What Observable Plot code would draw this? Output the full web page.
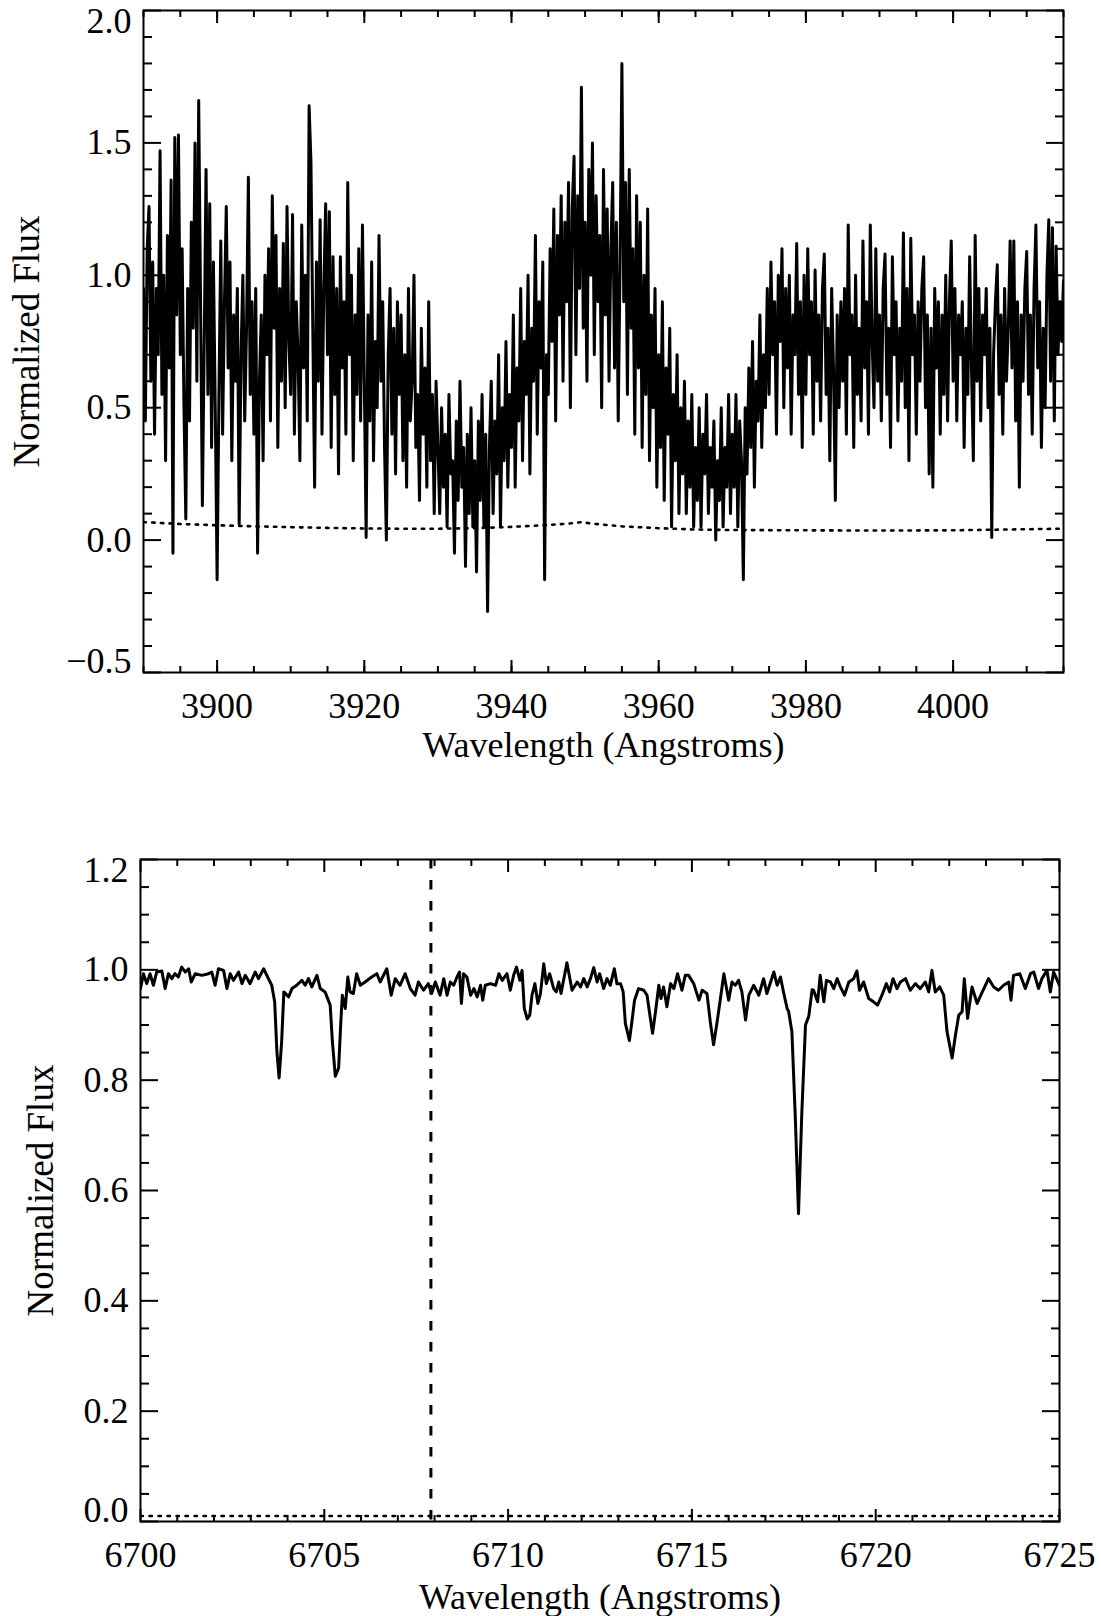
<!DOCTYPE html>
<html><head><meta charset="utf-8">
<script src="https://cdn.jsdelivr.net/npm/d3@7"></script>
<script src="https://cdn.jsdelivr.net/npm/@observablehq/plot@0.6"></script>
<style>
html,body{margin:0;padding:0;background:#fff;overflow:hidden;}
#chart svg{display:block;}
</style></head><body><div id="chart"></div>
<script>
// ---------- Top panel: Ca II H & K region (sampled every 0.25 A from 3890 A) ----------
const topStart = 3890, topStep = 0.25;
const topFlux = [
0.95,0.45,1.10,1.26,0.60,1.05,0.40,0.95,0.70,1.47,0.55,1.00,0.30,1.15,0.65,1.36,-0.05,1.52,0.85,1.53,
0.70,1.10,0.50,0.08,0.95,0.45,1.20,0.80,1.50,0.60,1.66,0.90,0.13,0.75,1.40,0.55,1.27,0.35,1.05,0.50,
-0.15,0.55,1.13,0.40,0.90,1.26,0.65,1.05,0.30,0.85,0.60,0.95,0.06,0.70,1.00,0.45,0.80,1.37,0.55,0.90,
0.40,0.95,-0.05,0.60,0.85,0.30,1.00,0.70,1.10,0.45,1.30,0.80,1.15,0.35,0.95,0.60,1.12,0.50,1.26,0.75,
0.55,1.23,0.40,0.90,0.70,0.30,1.19,0.65,1.00,0.45,1.64,1.43,0.80,0.20,1.05,0.60,1.21,0.40,0.95,1.27,
0.70,1.24,0.35,1.07,0.55,0.95,0.25,1.07,0.65,0.90,0.40,1.35,0.70,1.00,0.30,0.85,0.55,1.10,0.45,1.19,
0.60,0.01,0.85,0.45,1.05,0.30,0.75,0.50,1.15,0.60,0.90,0.35,0.00,0.70,0.95,0.40,0.80,0.25,0.90,0.55,
0.85,0.30,0.70,0.20,0.95,0.45,0.60,1.00,0.35,0.55,0.15,0.80,0.40,0.65,0.20,0.90,0.30,0.55,0.10,0.60,
0.35,0.10,0.50,0.20,0.40,0.05,0.55,0.25,0.30,-0.05,0.45,0.15,0.60,0.20,0.35,-0.10,0.40,0.10,0.50,0.05,
0.30,-0.12,0.45,0.15,0.55,0.05,0.40,-0.27,0.35,0.60,0.10,0.45,0.25,0.70,0.05,0.50,0.30,0.75,0.20,0.55,
0.35,0.85,0.20,0.65,0.45,0.95,0.30,0.75,0.55,1.00,0.25,0.80,0.60,1.15,0.40,0.90,0.65,1.05,-0.15,0.70,
0.55,1.10,0.75,1.25,0.45,1.15,0.85,1.30,0.60,1.20,0.90,1.35,0.50,1.25,1.45,0.70,1.30,0.95,1.71,0.80,
1.20,0.60,1.40,1.00,1.50,0.70,1.30,0.90,1.15,0.50,1.40,0.85,1.25,0.60,1.10,1.35,0.65,1.20,0.45,1.05,
1.80,0.90,1.35,0.55,1.40,0.80,1.10,0.40,1.30,0.65,1.20,0.35,1.00,0.55,1.25,0.30,0.85,0.50,0.95,0.20,
0.70,0.35,0.90,0.15,0.65,0.40,0.80,0.05,0.55,0.30,0.70,0.10,0.50,0.25,0.60,0.10,0.45,0.20,0.55,0.05,
0.35,0.15,0.50,0.05,0.40,0.25,0.55,0.10,0.35,0.20,0.45,0.00,0.30,0.15,0.50,0.05,0.35,0.20,0.55,0.10,
0.40,0.20,0.55,0.05,0.45,0.30,-0.15,0.50,0.25,0.65,0.35,0.75,0.20,0.60,0.45,0.85,0.35,0.70,0.50,0.95,
0.55,1.05,0.70,0.90,0.40,1.00,0.75,1.10,0.50,0.95,0.65,1.00,0.40,0.85,0.70,1.12,0.55,0.90,0.35,1.00,
0.55,1.10,0.70,0.90,0.40,1.02,0.60,0.85,0.45,0.95,1.08,0.55,0.80,0.30,0.95,0.65,0.15,0.85,0.50,0.90,
0.60,0.95,0.40,1.19,0.70,0.85,0.35,1.00,0.55,0.80,0.45,1.13,0.65,0.90,0.40,1.19,0.75,0.50,1.10,0.60,
0.85,0.45,0.95,1.08,0.55,0.80,0.35,1.07,0.70,0.90,0.45,0.80,0.60,1.16,0.50,0.95,0.30,1.14,0.70,0.85,
0.40,0.90,0.60,0.95,1.07,0.50,0.85,0.25,0.80,0.20,0.95,0.65,0.90,0.40,0.85,0.55,1.00,0.45,0.90,1.13,
0.60,0.95,0.45,0.85,0.70,0.90,0.35,0.80,0.55,1.07,0.65,0.30,1.15,0.60,0.95,0.45,0.85,0.70,0.95,0.50,
0.80,0.01,0.70,0.90,1.04,0.55,0.85,0.40,0.95,0.60,0.80,1.13,0.65,1.13,0.45,0.90,0.20,0.85,0.60,0.95,
1.09,0.55,0.85,0.40,0.95,1.19,0.65,0.90,0.35,0.80,0.50,1.00,1.21,0.60,1.18,0.45,1.11,0.70,0.90,0.75,0.98
];
// dotted (error) spectrum, top panel
const topErrWave = [3890,3895,3900,3905,3910,3915,3920,3925,3930,3935,3940,3945,3948,3949.5,3951,3955,3960,3965,3970,3980,3990,4000,4005,4010,4015];
const topErrFlux = [0.068,0.061,0.056,0.052,0.049,0.046,0.044,0.043,0.043,0.045,0.050,0.057,0.063,0.068,0.062,0.052,0.045,0.040,0.038,0.037,0.036,0.037,0.039,0.041,0.043];

const topXMajor = [3900,3920,3940,3960,3980,4000];
const topXMinor = [3890,3895,3900,3905,3910,3915,3920,3925,3930,3935,3940,3945,3950,3955,3960,3965,3970,3975,3980,3985,3990,3995,4000,4005,4010,4015];
const topYMajor = [-0.5,0.0,0.5,1.0,1.5,2.0];
const topYMinor = [-0.4,-0.3,-0.2,-0.1,0.1,0.2,0.3,0.4,0.6,0.7,0.8,0.9,1.1,1.2,1.3,1.4,1.6,1.7,1.8,1.9];

// ---------- Bottom panel: Li 6708 region ----------
const liWave = [6700.00,6700.08,6700.17,6700.26,6700.35,6700.44,6700.58,6700.67,6700.76,6700.85,6700.94,6701.03,6701.12,6701.22,6701.31,6701.38,6701.49,6701.67,6701.85,6701.94,
6702.03,6702.12,6702.26,6702.35,6702.44,6702.53,6702.67,6702.76,6702.85,6702.98,6703.12,6703.21,6703.35,6703.48,6703.57,6703.65,6703.71,6703.77,6703.84,6703.90,
6704.03,6704.12,6704.25,6704.39,6704.48,6704.57,6704.66,6704.80,6704.89,6705.02,6705.16,6705.22,6705.30,6705.39,6705.45,6705.49,6705.57,6705.64,6705.70,6705.79,
6705.88,6705.98,6706.11,6706.29,6706.43,6706.52,6706.70,6706.82,6706.93,6707.06,6707.20,6707.34,6707.47,6707.56,6707.70,6707.83,6707.92,6708.02,6708.15,6708.25,
6708.34,6708.43,6708.52,6708.61,6708.68,6708.73,6708.79,6708.88,6708.98,6709.07,6709.16,6709.25,6709.31,6709.38,6709.52,6709.66,6709.75,6709.84,6709.97,6710.06,
6710.15,6710.23,6710.32,6710.38,6710.44,6710.52,6710.59,6710.65,6710.73,6710.81,6710.88,6710.97,6711.04,6711.13,6711.24,6711.31,6711.38,6711.44,6711.60,6711.74,
6711.88,6711.97,6712.06,6712.15,6712.24,6712.33,6712.42,6712.49,6712.60,6712.69,6712.78,6712.89,6712.96,6713.06,6713.13,6713.19,6713.30,6713.37,6713.44,6713.55,
6713.69,6713.78,6713.87,6713.93,6714.01,6714.10,6714.16,6714.23,6714.32,6714.42,6714.51,6714.61,6714.73,6714.82,6714.91,6715.05,6715.19,6715.28,6715.41,6715.50,
6715.59,6715.68,6715.77,6715.87,6716.00,6716.09,6716.18,6716.27,6716.36,6716.46,6716.55,6716.68,6716.82,6716.95,6717.04,6717.23,6717.32,6717.41,6717.50,6717.59,
6717.63,6717.72,6717.81,6717.90,6717.99,6718.09,6718.18,6718.27,6718.31,6718.42,6718.49,6718.59,6718.66,6718.77,6718.86,6718.95,6719.04,6719.15,6719.27,6719.40,
6719.49,6719.56,6719.67,6719.81,6719.94,6720.05,6720.17,6720.29,6720.38,6720.47,6720.58,6720.67,6720.81,6720.94,6721.08,6721.21,6721.35,6721.44,6721.53,6721.62,
6721.74,6721.85,6721.94,6722.08,6722.17,6722.26,6722.35,6722.41,6722.50,6722.62,6722.76,6722.86,6723.07,6723.21,6723.34,6723.48,6723.62,6723.68,6723.75,6723.92,
6724.07,6724.21,6724.30,6724.43,6724.52,6724.66,6724.75,6724.84,6725.00];
const liFlux = [0.966,0.993,0.975,0.993,0.972,0.996,0.998,0.966,0.993,0.984,0.993,0.987,1.005,0.996,1.002,0.978,0.993,0.990,0.993,0.996,
0.972,1.002,0.999,0.966,0.993,0.981,0.996,0.975,0.990,0.975,0.996,0.984,1.002,0.984,0.972,0.942,0.852,0.804,0.870,0.960,
0.951,0.966,0.972,0.981,0.972,0.984,0.969,0.990,0.966,0.960,0.936,0.870,0.807,0.822,0.906,0.954,0.930,0.987,0.960,0.957,
0.993,0.972,0.978,0.987,0.993,0.978,1.002,0.954,0.984,0.972,0.993,0.966,0.954,0.978,0.963,0.975,0.957,0.978,0.954,0.984,
0.954,0.978,0.972,0.987,0.996,0.939,0.993,0.987,0.954,0.966,0.951,0.972,0.945,0.972,0.975,0.972,0.993,0.981,0.993,0.963,
0.990,1.005,0.981,0.999,0.930,0.911,0.918,0.954,0.975,0.939,0.957,1.011,0.975,0.993,0.966,0.960,0.978,0.957,1.013,0.963,
0.978,0.969,0.984,0.969,0.984,1.004,0.978,0.993,0.966,0.984,0.972,1.002,0.975,0.975,0.960,0.903,0.872,0.907,0.945,0.966,
0.963,0.954,0.912,0.885,0.924,0.972,0.948,0.969,0.933,0.975,0.966,0.993,0.963,0.990,0.990,0.975,0.945,0.963,0.957,0.906,
0.864,0.903,0.945,0.993,0.945,0.978,0.972,0.981,0.960,0.909,0.954,0.972,0.954,0.984,0.957,0.996,0.972,0.987,0.957,0.930,
0.925,0.888,0.738,0.558,0.740,0.900,0.916,0.964,0.963,0.942,0.990,0.942,0.981,0.978,0.966,0.984,0.969,0.954,0.978,0.984,
0.998,0.963,0.978,0.948,0.942,0.936,0.954,0.975,0.960,0.984,0.966,0.978,0.984,0.963,0.975,0.966,0.978,0.960,0.999,0.960,
0.969,0.954,0.888,0.840,0.882,0.918,0.924,0.984,0.912,0.969,0.939,0.954,0.984,0.969,0.963,0.972,0.978,0.945,0.990,0.993,
0.966,0.993,0.996,0.966,0.984,0.999,0.960,0.996,0.972];
const liErrWave = [6700, 6712.5, 6725];
const liErrFlux = [0.010, 0.010, 0.010];
const liMarker = [6707.9];

const botXMajor = [6700,6705,6710,6715,6720,6725];
const botXMinor = [6701,6702,6703,6704,6706,6707,6708,6709,6711,6712,6713,6714,6716,6717,6718,6719,6721,6722,6723,6724];
const botYMajor = [0.0,0.2,0.4,0.6,0.8,1.0,1.2];
const botYMinor = [0.05,0.10,0.15,0.25,0.30,0.35,0.45,0.50,0.55,0.65,0.70,0.75,0.85,0.90,0.95,1.05,1.10,1.15];

const xLabel = "Wavelength (Angstroms)";
const yLabel = "Normalized Flux";

const FONT = '"Liberation Serif", "Times New Roman", Times, serif';

function tickMarks(o) {
  const sw = 2;
  return [
    Plot.axisX({anchor: "bottom", ticks: o.xMajor, tickSize: -12, fill: "none", strokeWidth: sw, label: null}),
    Plot.axisX({anchor: "bottom", ticks: o.xMinor, tickSize: -6, fill: "none", strokeWidth: sw, label: null}),
    Plot.axisX({anchor: "top", ticks: o.xMajor, tickSize: -12, fill: "none", strokeWidth: sw, label: null}),
    Plot.axisX({anchor: "top", ticks: o.xMinor, tickSize: -6, fill: "none", strokeWidth: sw, label: null}),
    Plot.axisY({anchor: "left", ticks: o.yMajor, tickSize: -18, fill: "none", strokeWidth: sw, label: null}),
    Plot.axisY({anchor: "left", ticks: o.yMinor, tickSize: -9, fill: "none", strokeWidth: sw, label: null}),
    Plot.axisY({anchor: "right", ticks: o.yMajor, tickSize: -18, fill: "none", strokeWidth: sw, label: null}),
    Plot.axisY({anchor: "right", ticks: o.yMinor, tickSize: -9, fill: "none", strokeWidth: sw, label: null}),
    // tick labels
    Plot.axisX({anchor: "bottom", ticks: o.xMajor, tickSize: 0, tickPadding: 20, tickFormat: d3.format("d"), label: null}),
    Plot.axisY({anchor: "left", ticks: o.yMid, tickSize: 0, tickPadding: 12, tickFormat: d3.format(".1f"), label: null}),
    Plot.axisY({anchor: "left", ticks: [o.yMax], tickSize: 0, tickPadding: 12, dy: 11, tickFormat: d3.format(".1f"), label: null}),
    Plot.axisY({anchor: "left", ticks: [o.yMin], tickSize: 0, tickPadding: 12, dy: -11, tickFormat: d3.format(".1f"), label: null}),
    Plot.frame({stroke: "black", strokeWidth: 2}),
    Plot.text([xLabel], {text: d => d, frameAnchor: "bottom", dy: o.xLabelDy, textAnchor: "middle", lineAnchor: "middle", fontSize: 36}),
    Plot.text([yLabel], {text: d => d, frameAnchor: "left", dx: o.yLabelDx, rotate: -90, textAnchor: "middle", lineAnchor: "middle", fontSize: 37})
  ];
}

const plotStyle = {fontFamily: FONT, fontSize: "36px", color: "#000", background: "#fff", overflow: "visible"};

const topData = topFlux.map((f, i) => ({w: topStart + i * topStep, f}));
const topErr = topErrWave.map((w, i) => ({w, f: topErrFlux[i]}));

const topPlot = Plot.plot({
  width: 1101, height: 800,
  marginTop: 10, marginBottom: 128, marginLeft: 143, marginRight: 38,
  style: plotStyle,
  x: {domain: [3890, 4015]},
  y: {domain: [-0.5, 2.0]},
  marks: [
    Plot.line(topErr, {x: "w", y: "f", stroke: "black", strokeWidth: 2.6, strokeDasharray: "2.4,6.3", clip: true}),
    Plot.line(topData, {x: "w", y: "f", stroke: "black", strokeWidth: 3, clip: true}),
    ...tickMarks({xMajor: topXMajor, xMinor: topXMinor, yMajor: topYMajor, yMinor: topYMinor,
      yMid: [0.0, 0.5, 1.0, 1.5], yMax: 2.0, yMin: -0.5, xLabelDy: 73, yLabelDx: -116})
  ]
});

const botData = liWave.map((w, i) => ({w, f: liFlux[i]}));
const botErr = liErrWave.map((w, i) => ({w, f: liErrFlux[i]}));

const botPlot = Plot.plot({
  width: 1101, height: 816,
  marginTop: 59, marginBottom: 95, marginLeft: 140, marginRight: 42,
  style: plotStyle,
  x: {domain: [6700, 6725]},
  y: {domain: [0, 1.2]},
  marks: [
    Plot.line(botErr, {x: "w", y: "f", stroke: "black", strokeWidth: 2.6, strokeDasharray: "2.4,6.6", clip: true}),
    Plot.ruleX(liMarker, {x: d => d, stroke: "black", strokeWidth: 3, strokeDasharray: "9.5,11.5"}),
    Plot.line(botData, {x: "w", y: "f", stroke: "black", strokeWidth: 3, clip: true}),
    ...tickMarks({xMajor: botXMajor, xMinor: botXMinor, yMajor: botYMajor, yMinor: botYMinor,
      yMid: [0.2, 0.4, 0.6, 0.8, 1.0], yMax: 1.2, yMin: 0.0, xLabelDy: 76, yLabelDx: -99})
  ]
});

document.getElementById("chart").append(topPlot, botPlot);
</script></body></html>
